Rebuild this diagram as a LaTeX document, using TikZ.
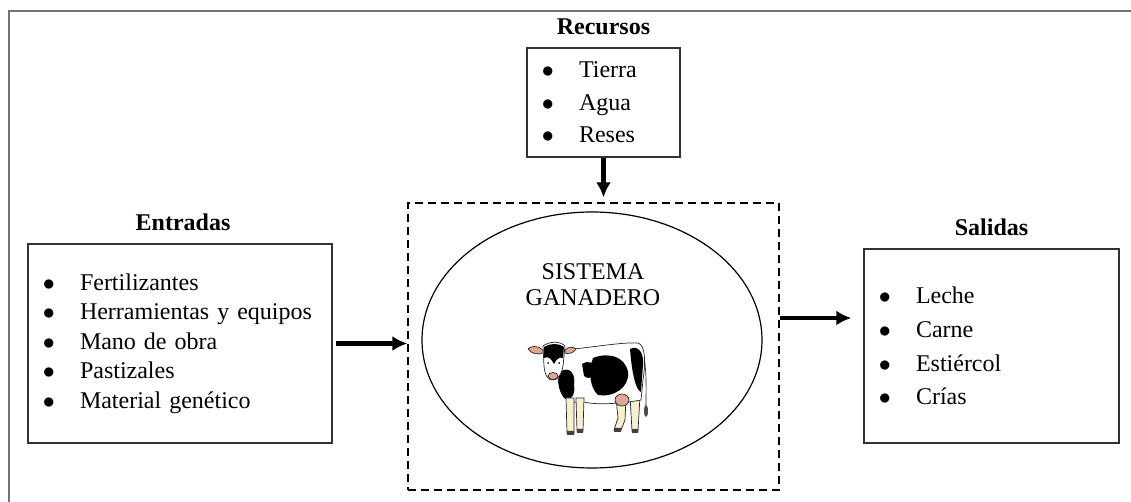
\documentclass[tikz,border=0pt]{standalone}
\usepackage{fontspec}
\setmainfont{Liberation Serif}
\usetikzlibrary{positioning,shapes.geometric,arrows.meta}
\definecolor{cowpink}{RGB}{222,168,148}
\definecolor{cowleg}{RGB}{248,238,210}
\newcommand{\bul}{\makebox[18pt][l]{\hspace{-0.6pt}$\bullet$}}
\begin{document}
\begin{tikzpicture}[x=0.5pt,y=-0.5pt,>={Latex[length=7.5pt,width=7.5pt]},
  box/.style={draw=black!80,line width=0.7pt,inner xsep=8pt,align=left},
  head/.style={font=\bfseries\fontsize{12}{14}\selectfont,inner sep=0pt,above=6pt of #1},
  flow/.style={->,line width=2.1pt},
  cowline/.style={draw=black!85,line width=0.35pt},
  cowbody/.style={cowline,fill=white}]

\useasboundingbox (0,0) rectangle (1131,502);
\draw [black!55,line width=0.8pt] (9,502) -- (9,11) -- (1131,11);

\node [box,minimum width=152pt,minimum height=99.5pt,text width=136pt,
  font=\fontsize{12}{14.75}\selectfont] (ent) at (180,343.5)
  {\bul Fertilizantes\\ \bul Herramientas y equipos\\ \bul Mano de obra\\
   \bul Pastizales\\ \bul Material genético};
\node [box,minimum width=76.5pt,minimum height=54.5pt,text width=60.5pt,
  font=\fontsize{12}{16.25}\selectfont] (rec) at (603.5,102.5)
  {\bul Tierra\\ \bul Agua\\ \bul Reses};
\node [box,minimum width=127.5pt,minimum height=97pt,text width=111.5pt,
  font=\fontsize{12}{16.85}\selectfont] (sal) at (991.5,346)
  {\bul Leche\\ \bul Carne\\ \bul Estiércol\\ \bul Crías};

\node [head=ent,xshift=1.5pt] {Entradas};
\node [head=rec] {Recursos};
\node [head=sal] {Salidas};

\node [draw,dash pattern=on 4pt off 2.5pt,line width=0.6pt,
  minimum width=185.5pt,minimum height=143.5pt] (sis) at (593.5,346.5) {};
\node [draw,ellipse,line width=0.6pt,minimum width=170pt,minimum height=128pt]
  (elip) at (592,340) {};
\node [align=center,font=\fontsize{12}{13}\selectfont] (tit) at (593,285)
  {SISTEMA\\GANADERO};

\draw [flow] (rec.south) -- ([yshift=2.5pt]rec.south |- sis.north);
\draw [flow] ([xshift=1.5pt]ent.east) -- (ent.east -| sis.west);
\draw [flow] ([yshift=14.25pt]sis.east) -- ([yshift=14.25pt,xshift=-6pt]sis.east -| sal.west);

% cow
\draw [cowline] (643,352) .. controls (647,370) and (646,390) .. (646,408);
\fill [black!70] (646,411) ellipse (2 and 6);
\filldraw [cowline,fill=cowleg] (616,398) -- (626,398) -- (625,420) -- (621,430)
  -- (614,430) -- (618,418) -- cycle;
\filldraw [cowline,fill=cowleg] (630,396) -- (640,396) -- (638,431) -- (632,431) -- cycle;
\fill [black!75] (614,428) rectangle (621,432) (632,429) rectangle (638,433);
\filldraw [cowbody] (562,350) .. controls (590,348) and (620,342) .. (638,343)
  .. controls (645,345) and (646,360) .. (643,380) -- (641,400)
  .. controls (620,404) and (595,405) .. (584,402)
  .. controls (572,404) and (565,400) .. (562,392)
  .. controls (556,380) and (556,365) .. (562,350) -- cycle;
\fill (593,358) .. controls (608,352) and (625,356) .. (628,372)
  .. controls (630,388) and (612,398) .. (598,395)
  .. controls (590,388) and (588,372) .. (593,358) -- cycle;
\fill (582,364) .. controls (588,360) and (596,362) .. (596,370)
  .. controls (596,378) and (588,380) .. (584,376) -- cycle;
\fill (630,349) .. controls (638,345) and (644,352) .. (643,365) -- (641,392)
  .. controls (636,390) and (632,375) .. (630,349) -- cycle;
\fill (560,372) .. controls (568,366) and (576,372) .. (574,385)
  .. controls (576,395) and (570,402) .. (564,398)
  .. controls (558,390) and (557,380) .. (560,372) -- cycle;
\filldraw [cowline,fill=cowpink] (622,400) ellipse (7 and 6);
\filldraw [cowline,fill=cowleg] (566,398) -- (574,398) -- (574,433) -- (567,433) -- cycle;
\filldraw [cowline,fill=cowleg] (576,398) -- (584,398) -- (583,431) -- (577,431) -- cycle;
\fill [black!75] (567,431) rectangle (574,435) (577,429) rectangle (583,433);
\filldraw [cowline,fill=cowpink] (543,350) .. controls (538,345) and (530,346) .. (528,349)
  .. controls (531,354) and (539,355) .. (543,353) -- cycle;
\filldraw [cowline,fill=cowpink] (565,350) .. controls (569,346) and (574,347) .. (576,349)
  .. controls (573,354) and (567,354) .. (565,353) -- cycle;
\filldraw [cowbody] (543,346) .. controls (550,341) and (560,341) .. (565,346)
  -- (563,366) .. controls (561,376) and (557,380) .. (553,380)
  .. controls (548,380) and (545,376) .. (544,366) -- cycle;
\fill (544,347) .. controls (550,343) and (559,343) .. (564,347) -- (563,358)
  .. controls (559,356) and (556,360) .. (554,364)
  .. controls (551,358) and (548,356) .. (544,358) -- cycle;
\filldraw [cowline,fill=cowpink] (553,376) ellipse (5 and 3.5);
\fill (548,363) circle (1) (559,363) circle (1);

\end{tikzpicture}
\end{document}
